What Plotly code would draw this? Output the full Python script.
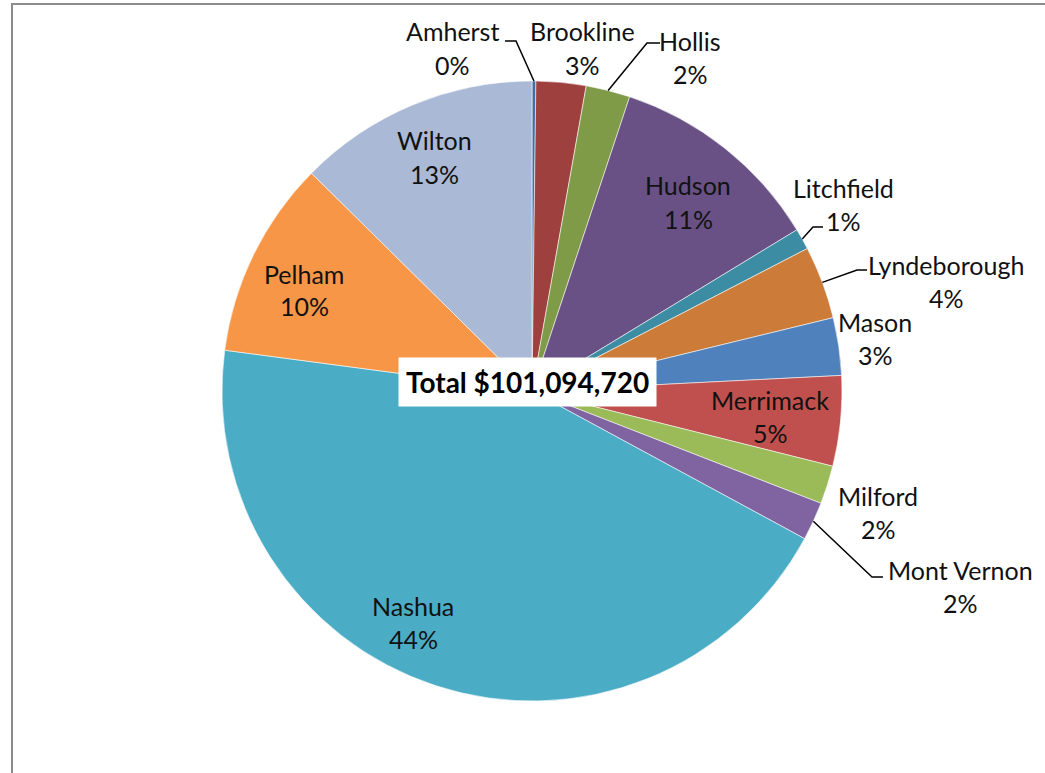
import math
import plotly.graph_objects as go

W, H = 1045, 773

# Share of the total, per town (percent)
towns = ["Amherst", "Brookline", "Hollis", "Hudson", "Litchfield", "Lyndeborough",
         "Mason", "Merrimack", "Milford", "Mont Vernon", "Nashua", "Pelham", "Wilton"]
shares = [0.2, 2.6, 2.3, 11.2, 1.1, 3.8, 3.0, 4.7, 2.0, 2.0, 44.2, 10.3, 12.6]
colors = ["#3E6FA8", "#9E413E", "#7F9B48", "#695185", "#3C8DA3", "#CC7B38",
          "#4F81BD", "#C0504D", "#9BBB59", "#8064A2", "#4BACC6", "#F79646", "#AAB9D6"]
total_label = "Total $101,094,720"

# Pie geometry in pixels
cx, cy, r = 532, 391, 310

def px(x):
    return x / W

def py(y):
    return 1 - y / H

fig = go.Figure(go.Pie(
    labels=towns,
    values=shares,
    sort=False,
    direction="clockwise",
    rotation=0,
    textinfo="none",
    hoverinfo="label+percent",
    marker=dict(colors=colors, line=dict(color="rgba(255,255,255,0.7)", width=0.8)),
    domain=dict(x=[px(cx - r), px(cx + r)], y=[py(cy + r), py(cy - r)]),
    showlegend=False,
))

# Label placement (name/percent block centre, pixels) and optional leader-line elbow
label_pos = {
    "Amherst": (452, 48, (516, 41), (505, 41)),
    "Brookline": (582, 48, None, None),
    "Hollis": (690, 57, (647, 43), (660, 43)),
    "Hudson": (688, 202, None, None),
    "Litchfield": (843, 204, (813, 227), (823, 227)),
    "Lyndeborough": (946, 281, (857, 270), (867, 270)),
    "Mason": (875, 338, None, None),
    "Merrimack": (770, 416, None, None),
    "Milford": (878, 512, None, None),
    "Mont Vernon": (960, 586, (872, 577), (883, 577)),
    "Nashua": (413, 622, None, None),
    "Pelham": (304, 290, None, None),
    "Wilton": (434, 157, None, None),
}

tot = sum(shares)
annotations = []
shapes = []
cum = 0.0
for name, val in zip(towns, shares):
    mid = (cum + val / 2) / tot * 2 * math.pi
    cum += val
    lx, ly, elbow, end = label_pos[name]
    pct = f"{round(val / tot * 100):.0f}%"
    for text, dy in ((name, -16.5), (pct, 16.5)):
        annotations.append(dict(
            x=px(lx), y=py(ly + dy), xref="paper", yref="paper",
            text=text, showarrow=False, xanchor="center", yanchor="middle",
            font=dict(family="Lato, Carlito, sans-serif", size=25, color="#111111"),
        ))
    if elbow is not None:
        sx = cx + r * math.sin(mid)
        sy = cy - r * math.cos(mid)
        path = f"M {px(sx)} {py(sy)} L {px(elbow[0])} {py(elbow[1])} L {px(end[0])} {py(end[1])}"
        shapes.append(dict(type="path", xref="paper", yref="paper", path=path,
                           line=dict(color="#000000", width=1.5)))

annotations.append(dict(
    x=px(527), y=py(382), xref="paper", yref="paper",
    text=f"<b>{total_label}</b>", showarrow=False, xanchor="center", yanchor="middle",
    font=dict(family="Lato, Carlito, sans-serif", size=28, color="#000000"),
    bgcolor="#FFFFFF", borderpad=7,
))

# Chart-area frame
shapes.append(dict(type="rect", xref="paper", yref="paper",
                   x0=px(12), x1=1.05, y0=-0.05, y1=py(4),
                   line=dict(color="#8C8C8C", width=2), layer="below"))

fig.update_layout(
    width=W, height=H,
    margin=dict(l=0, r=0, t=0, b=0),
    paper_bgcolor="#FFFFFF",
    plot_bgcolor="#FFFFFF",
    annotations=annotations,
    shapes=shapes,
)

fig.write_html("out.html")
